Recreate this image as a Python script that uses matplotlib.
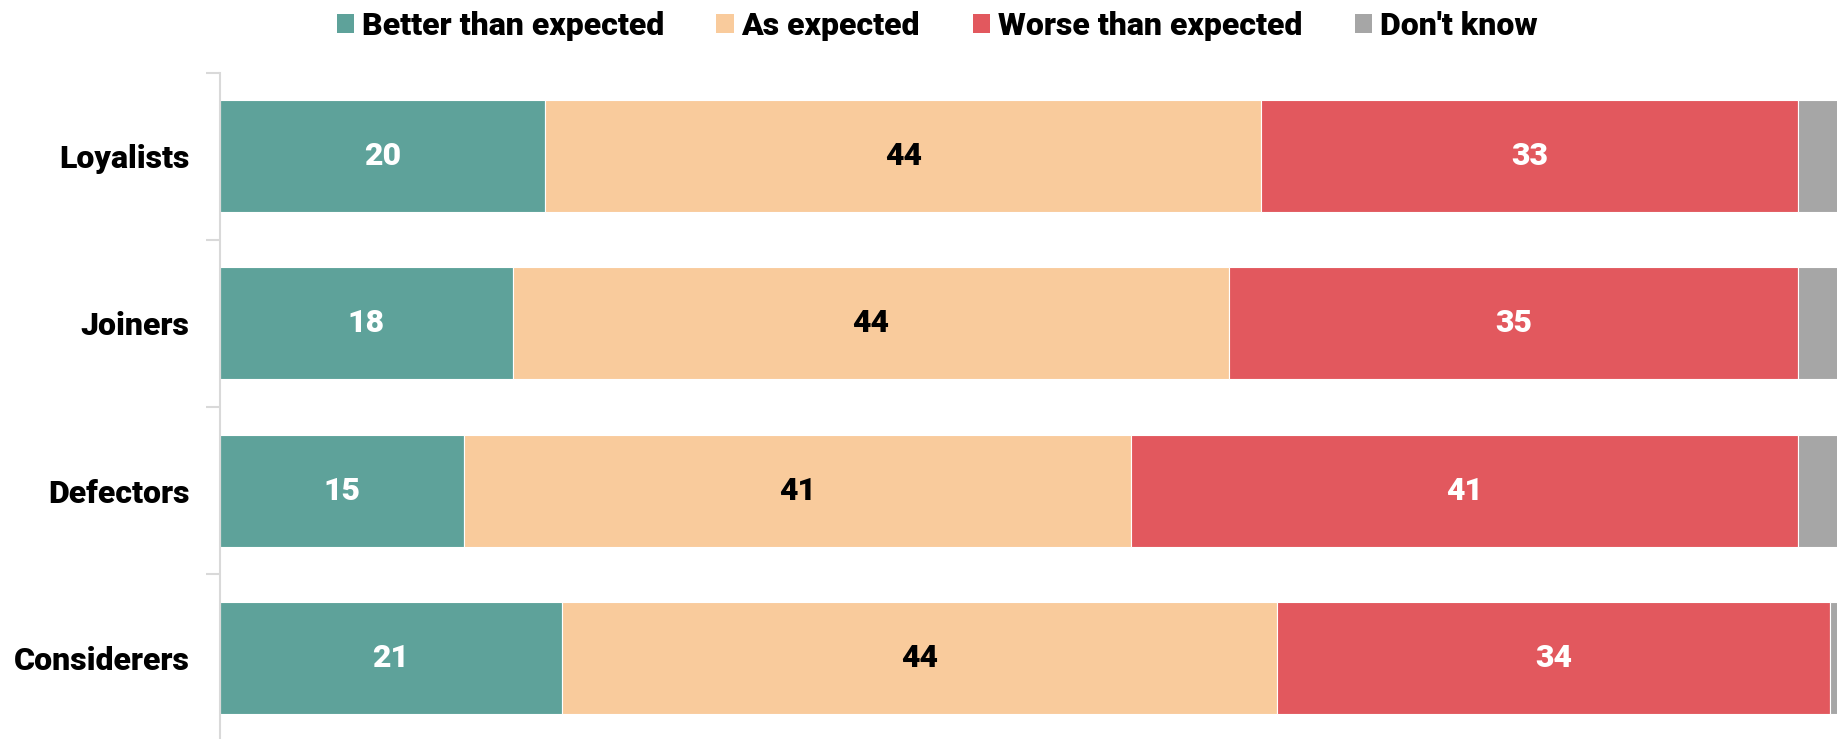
import numpy as np
import matplotlib.pyplot as plt
from matplotlib.patches import Patch

plt.rcParams['font.family'] = ['Roboto', 'DejaVu Sans']
plt.rcParams['font.weight'] = 'bold'

groups = ['Loyalists', 'Joiners', 'Defectors', 'Considerers']
better = [20, 18, 15, 21]
as_exp = [44, 44, 41, 44]
worse = [33, 35, 41, 34]
dont_know = [3, 3, 3, 1]

series = ['Better than expected', 'As expected', 'Worse than expected', "Don't know"]
colors = ['#5ea29a', '#f9cb9c', '#e2585e', '#a6a6a6']
text_colors = ['white', 'black', 'white', None]

fig = plt.figure(figsize=(18.37, 7.39), dpi=100)
ax = fig.add_axes([0.1198, 0.0, 0.8802, 0.9018])

y = np.arange(len(groups))
left = np.zeros(len(groups))
for vals, col, tc in zip([better, as_exp, worse, dont_know], colors, text_colors):
    bars = ax.barh(y, vals, left=left, height=0.67, color=col, edgecolor='white', linewidth=0.8)
    if tc is not None:
        ax.bar_label(bars, labels=[str(v) for v in vals], label_type='center',
                     color=tc, fontsize=23, fontweight='heavy')
    left += np.array(vals)

ax.set_xlim(0, 99.4)
ax.set_ylim(3.485, -0.5)
ax.set_yticks(y)
ax.set_yticklabels(groups, fontsize=23, fontweight='heavy')
ax.tick_params(axis='y', which='major', length=0, pad=22)
ax.set_yticks(np.arange(-0.5, 3.5, 1), minor=True)
ax.tick_params(axis='y', which='minor', length=10, width=1.5, color='#d9d9d9')
ax.set_xticks([])
for s in ['top', 'right', 'bottom']:
    ax.spines[s].set_visible(False)
ax.spines['left'].set_color('#d9d9d9')
ax.spines['left'].set_linewidth(1.5)

handles = [Patch(facecolor=c, edgecolor='none') for c in colors]
fig.legend(handles, series, loc='center', bbox_to_anchor=(0.51, 0.965), ncol=4,
           frameon=False, prop={'family': ['Roboto', 'DejaVu Sans'], 'weight': 'heavy', 'size': 23},
           handlelength=0.56, handleheight=0.56, handletextpad=0.22, columnspacing=1.65,
           borderaxespad=0, borderpad=0)

fig.savefig('out.png', dpi=100)
